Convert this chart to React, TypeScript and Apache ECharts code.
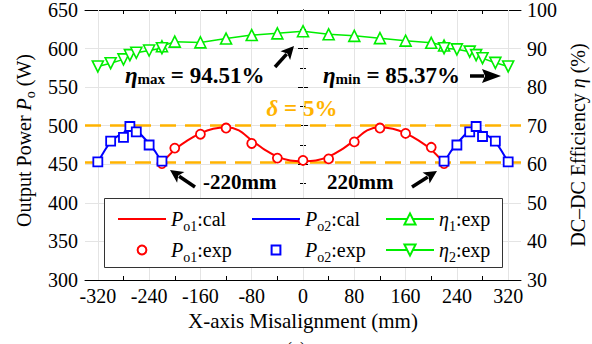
import React, { useEffect, useRef } from 'react';
import * as echarts from 'echarts';

const FONT = 'Liberation Serif';

// ---- axes ----
const X_LABELS = [-320, -240, -160, -80, 0, 80, 160, 240, 320];
const X_TICKS = [-320, -280, -240, -200, -160, -120, -80, -40, 0, 40, 80, 120, 160, 200, 240, 280, 320];
const DELTA_LEVELS = [500, 452];

// ---- P_o1 ----
const PO1_CAL_X = [-220, -200, -180, -160, -140, -120, -100, -80, -60, -40, -20, 0, 20, 40, 60, 80, 100, 120, 140, 160, 180, 200, 220];
const PO1_CAL = [452, 469, 481, 490, 496, 498, 494, 481, 469, 460, 455, 454, 455, 460, 469, 481, 494, 498, 496, 490, 481, 469, 452];
const PO1_EXP_X = [-220, -200, -160, -120, -80, -40, 0, 40, 80, 120, 160, 200, 220];
const PO1_EXP = [451, 471, 489, 497, 477, 458, 455, 457, 479, 497, 490, 472, 451];

// ---- P_o2 ----
const PO2_CAL_L_X = [-320, -310, -300, -290, -280, -270, -260, -250, -240, -230, -220];
const PO2_CAL_L = [453, 467, 480, 486, 490, 501, 495, 486, 477, 466, 453];
const PO2_CAL_R_X = [220, 230, 240, 250, 260, 270, 280, 290, 300, 310, 320];
const PO2_CAL_R = [453, 466, 477, 486, 495, 501, 490, 486, 480, 467, 453];
const PO2_EXP_L_X = [-320, -300, -280, -270, -260, -240, -220];
const PO2_EXP_L = [453, 480, 485, 499, 492, 475, 454];
const PO2_EXP_R_X = [220, 240, 260, 270, 280, 300, 320];
const PO2_EXP_R = [454, 475, 492, 499, 486, 480, 453];

// ---- efficiencies ----
const ETA1_X = [-220, -200, -160, -120, -80, -40, 0, 40, 80, 120, 160, 200, 220];
const ETA1 = [90.6, 91.8, 91.6, 92.6, 93.5, 93.95, 94.51, 93.7, 93.3, 92.7, 92.05, 91.5, 90.8];
const ETA2_L_X = [-320, -300, -280, -270, -260, -240, -220];
const ETA2_L = [85.37, 86.2, 87.2, 88.3, 88.9, 89.5, 90.1];
const ETA2_R_X = [220, 240, 260, 270, 280, 300, 320];
const ETA2_R = [90.1, 89.8, 89.2, 88.3, 87.5, 86.3, 85.37];

const RED = '#FF0000';
const BLUE = '#0000FF';
const GREEN = '#00EE00';
const ORANGE = '#FFB300';

const zip = (xs: number[], ys: number[]) => xs.map((x, i) => [x, ys[i]]);

const LEG_RICH = {
  i: { fontStyle: 'italic', fontSize: 20, fontFamily: FONT, color: '#000', verticalAlign: 'top', lineHeight: 20 },
  s: { fontSize: 14, fontFamily: FONT, color: '#000', verticalAlign: 'top', lineHeight: 14, padding: [10, 0, 0, 0] },
  n: { fontSize: 20, fontFamily: FONT, color: '#000', verticalAlign: 'top', lineHeight: 20 },
};

const LEG_TEXT: Record<string, string> = {
  'Po1:cal': '{i|P}{s|o1}{n|:cal}',
  'Po1:exp': '{i|P}{s|o1}{n|:exp}',
  'Po2:cal': '{i|P}{s|o2}{n|:cal}',
  'Po2:exp': '{i|P}{s|o2}{n|:exp}',
  'η1:exp': '{i|η}{s|1}{n|:exp}',
  'η2:exp': '{i|η}{s|2}{n|:exp}',
};

const annRich = (fill: string) => ({
  e: { fontFamily: FONT, fontSize: 23, fontStyle: 'italic', fontWeight: 'bold', fill, verticalAlign: 'bottom', lineHeight: 23 },
  s: { fontFamily: FONT, fontSize: 15, fontWeight: 'bold', fill, verticalAlign: 'bottom', lineHeight: 15 },
  t: { fontFamily: FONT, fontSize: 23, fontWeight: 'bold', fill, verticalAlign: 'bottom', lineHeight: 23 },
});

function arrow(x1: number, y1: number, x2: number, y2: number, w: number, hl: number, hw: number) {
  const dx = x2 - x1, dy = y2 - y1;
  const L = Math.sqrt(dx * dx + dy * dy);
  const ux = dx / L, uy = dy / L;
  const bx = x2 - ux * hl, by = y2 - uy * hl;
  const px = -uy, py = ux;
  return [
    { type: 'line', z: 25, shape: { x1, y1, x2: bx + ux * 2, y2: by + uy * 2 }, style: { stroke: '#000', lineWidth: w } },
    {
      type: 'polygon', z: 25,
      shape: { points: [[x2, y2], [bx + px * hw / 2, by + py * hw / 2], [bx + ux * 3, by + uy * 3], [bx - px * hw / 2, by - py * hw / 2]] },
      style: { fill: '#000' },
    },
  ];
}

function legendCol(left: number, items: any[], itemHeight: number) {
  return {
    orient: 'vertical',
    left,
    top: 204,
    itemWidth: 48,
    itemHeight,
    itemGap: 7,
    selectedMode: false,
    z: 30,
    data: items,
    formatter: (n: string) => LEG_TEXT[n] || n,
    textStyle: { fontFamily: FONT, fontSize: 20, color: '#000', rich: LEG_RICH },
  };
}

export default function App() {
  const ref = useRef<HTMLDivElement>(null);
  useEffect(() => {
    document.body.style.margin = '0';
    const chart = echarts.init(ref.current!, null, { renderer: 'svg' });
    const axisLabelStyle = { fontFamily: FONT, fontSize: 20, color: '#000' };
    const lineOnly = (name: string) => ({ name, itemStyle: { opacity: 0 } });
    const option: any = {
      animation: false,
      backgroundColor: '#fff',
      textStyle: { fontFamily: FONT },
      grid: { left: 85, right: 71, top: 10, bottom: 64, containLabel: false, outerBoundsMode: 'none' },
      xAxis: [
        {
          type: 'value', min: -340, max: 340, position: 'bottom',
          axisLine: { show: true, onZero: false, lineStyle: { color: '#000', width: 1 } },
          axisTick: { show: true, inside: true, length: 4, customValues: X_TICKS, lineStyle: { color: '#000' } },
          axisLabel: { ...axisLabelStyle, margin: 6, customValues: X_LABELS },
          splitLine: { show: false },
          name: 'X-axis Misalignment (mm)', nameLocation: 'middle', nameGap: 29,
          nameTextStyle: { fontFamily: FONT, fontSize: 21, color: '#000' },
        },
        {
          type: 'value', min: -340, max: 340, position: 'top',
          axisLine: { show: true, onZero: false, lineStyle: { color: '#000', width: 1 } },
          axisTick: { show: true, inside: true, length: 4, customValues: X_TICKS, lineStyle: { color: '#000' } },
          axisLabel: { show: false },
          splitLine: { show: false },
        },
      ],
      yAxis: [
        {
          type: 'value', min: 300, max: 650, interval: 50, position: 'left',
          axisLine: { show: true, lineStyle: { color: '#000', width: 1 } },
          axisTick: { show: true, inside: true, length: 5, lineStyle: { color: '#000' } },
          minorTick: { show: true, splitNumber: 2, length: 3, lineStyle: { color: '#000' } },
          axisLabel: { ...axisLabelStyle, margin: 7 },
          splitLine: { show: true, lineStyle: { color: '#e4e4e4', width: 1 } },
          name: '{n|Output Power }{i|P}{s|o}{n| (W)}', nameLocation: 'middle', nameGap: 51, nameRotate: 90,
          nameTextStyle: {
            fontFamily: FONT, fontSize: 20, color: '#000', padding: [0, 0, 0, 9],
            rich: {
              n: { fontFamily: FONT, fontSize: 20, color: '#000', verticalAlign: 'top', lineHeight: 20 },
              i: { fontFamily: FONT, fontSize: 20, fontStyle: 'italic', color: '#000', verticalAlign: 'top', lineHeight: 20 },
              s: { fontFamily: FONT, fontSize: 14, color: '#000', verticalAlign: 'top', lineHeight: 14, padding: [9, 0, 0, 0] },
            },
          },
        },
        {
          type: 'value', min: 30, max: 100, interval: 10, position: 'right',
          axisLine: { show: true, lineStyle: { color: '#000', width: 1 } },
          axisTick: { show: true, inside: true, length: 5, lineStyle: { color: '#000' } },
          minorTick: { show: true, splitNumber: 2, length: 3, lineStyle: { color: '#000' } },
          axisLabel: { ...axisLabelStyle, margin: 6 },
          splitLine: { show: false },
          name: '{n|DC–DC Efficiency }{i|η}{n| (%)}', nameLocation: 'middle', nameGap: 43, nameRotate: 90,
          nameTextStyle: {
            fontFamily: FONT, fontSize: 20, color: '#000',
            rich: {
              n: { fontFamily: FONT, fontSize: 20, color: '#000' },
              i: { fontFamily: FONT, fontSize: 20, fontStyle: 'italic', color: '#000' },
            },
          },
        },
      ],
      legend: [
        legendCol(112, [lineOnly('Po1:cal'), 'Po1:exp'], 11),
        legendCol(246, [lineOnly('Po2:cal'), 'Po2:exp'], 11),
        legendCol(380, ['η1:exp', 'η2:exp'], 14),
      ],
      series: [
        {
          type: 'line', name: '_grid', data: [], z: 1, silent: true,
          markLine: {
            silent: true, symbol: ['none', 'none'], label: { show: false }, z: 1,
            lineStyle: { color: '#e4e4e4', width: 1, type: 'solid' },
            emphasis: { disabled: true },
            data: X_LABELS.map((v) => ({ xAxis: v })),
          },
        },
        {
          type: 'line', name: '_delta', data: [], z: 1, silent: true,
          markLine: {
            silent: true, symbol: ['none', 'none'], label: { show: false }, z: 1,
            lineStyle: { color: ORANGE, width: 2.5, type: [16, 9] },
            emphasis: { disabled: true },
            data: DELTA_LEVELS.map((v) => ({ yAxis: v })),
          },
        },
        {
          type: 'line', name: 'Po1:cal', data: zip(PO1_CAL_X, PO1_CAL), smooth: 0.3, symbol: 'none', z: 3,
          lineStyle: { color: RED, width: 2 }, itemStyle: { color: RED },
        },
        {
          type: 'line', name: 'Po2:cal', data: zip(PO2_CAL_L_X, PO2_CAL_L), symbol: 'none', z: 3,
          lineStyle: { color: BLUE, width: 2 }, itemStyle: { color: BLUE },
        },
        {
          type: 'line', name: 'Po2:cal', data: zip(PO2_CAL_R_X, PO2_CAL_R), symbol: 'none', z: 3,
          lineStyle: { color: BLUE, width: 2 }, itemStyle: { color: BLUE },
        },
        {
          type: 'line', name: 'Po1:exp', data: zip(PO1_EXP_X, PO1_EXP), symbol: 'circle', symbolSize: 9, z: 4,
          lineStyle: { color: RED, opacity: 0 }, itemStyle: { color: '#fff', borderColor: RED, borderWidth: 1.8 },
        },
        {
          type: 'line', name: 'Po2:exp', data: zip(PO2_EXP_L_X, PO2_EXP_L), symbol: 'rect', symbolSize: 9, z: 4,
          lineStyle: { color: BLUE, opacity: 0 }, itemStyle: { color: '#fff', borderColor: BLUE, borderWidth: 1.8 },
        },
        {
          type: 'line', name: 'Po2:exp', data: zip(PO2_EXP_R_X, PO2_EXP_R), symbol: 'rect', symbolSize: 9, z: 4,
          lineStyle: { color: BLUE, opacity: 0 }, itemStyle: { color: '#fff', borderColor: BLUE, borderWidth: 1.8 },
        },
        {
          type: 'line', name: 'η1:exp', yAxisIndex: 1, data: zip(ETA1_X, ETA1), symbol: 'triangle', symbolSize: 11, z: 4,
          lineStyle: { color: GREEN, width: 1.5 }, itemStyle: { color: '#fff', borderColor: GREEN, borderWidth: 1.6 },
        },
        {
          type: 'line', name: 'η2:exp', yAxisIndex: 1, data: zip(ETA2_L_X, ETA2_L), symbol: 'path://M0,0L10,0L5,10Z', symbolSize: 11, z: 4,
          lineStyle: { color: GREEN, width: 1.5 }, itemStyle: { color: '#fff', borderColor: GREEN, borderWidth: 1.6 },
        },
        {
          type: 'line', name: 'η2:exp', yAxisIndex: 1, data: zip(ETA2_R_X, ETA2_R), symbol: 'path://M0,0L10,0L5,10Z', symbolSize: 11, z: 4,
          lineStyle: { color: GREEN, width: 1.5 }, itemStyle: { color: '#fff', borderColor: GREEN, borderWidth: 1.6 },
        },
      ],
      graphic: [
        {
          type: 'rect', z: 20, silent: true,
          shape: { x: 104.5, y: 198.5, width: 398, height: 69 },
          style: { fill: '#fff', stroke: '#333', lineWidth: 1 },
        },
        {
          type: 'text', z: 25, x: 125, y: 75,
          style: { text: '{e|η}{s|max}{t| = 94.51%}', rich: annRich('#000'), verticalAlign: 'middle', align: 'left' },
        },
        {
          type: 'text', z: 25, x: 323, y: 75,
          style: { text: '{e|η}{s|min}{t| = 85.37%}', rich: annRich('#000'), verticalAlign: 'middle', align: 'left' },
        },
        {
          type: 'text', z: 25, x: 302, y: 108,
          style: { text: '{e|δ}{t| = 5%}', align: 'center', verticalAlign: 'middle', rich: annRich(ORANGE) },
        },
        {
          type: 'text', z: 25, x: 203, y: 182,
          style: { text: '-220mm', fontFamily: FONT, fontSize: 21, fontWeight: 'bold', fill: '#000', verticalAlign: 'middle', align: 'left' },
        },
        {
          type: 'text', z: 25, x: 327, y: 182,
          style: { text: '220mm', fontFamily: FONT, fontSize: 21, fontWeight: 'bold', fill: '#000', verticalAlign: 'middle', align: 'left' },
        },
        {
          type: 'text', z: 25, x: 296, y: 340,
          style: { text: '(a)', fontFamily: FONT, fontSize: 18, fill: '#000', verticalAlign: 'top', align: 'center' },
        },
        ...arrow(275, 67, 294, 46, 3.5, 13, 13),
        ...arrow(470, 76, 501, 76, 3.5, 19, 14),
        ...arrow(195, 187, 170, 170, 3.5, 13, 13),
        ...arrow(412, 187, 437, 171, 3.5, 13, 13),
      ],
    };
    chart.setOption(option);
    return () => chart.dispose();
  }, []);
  return <div ref={ref} style={{ position: 'absolute', left: 0, top: 0, width: 592, height: 344 }} />;
}
